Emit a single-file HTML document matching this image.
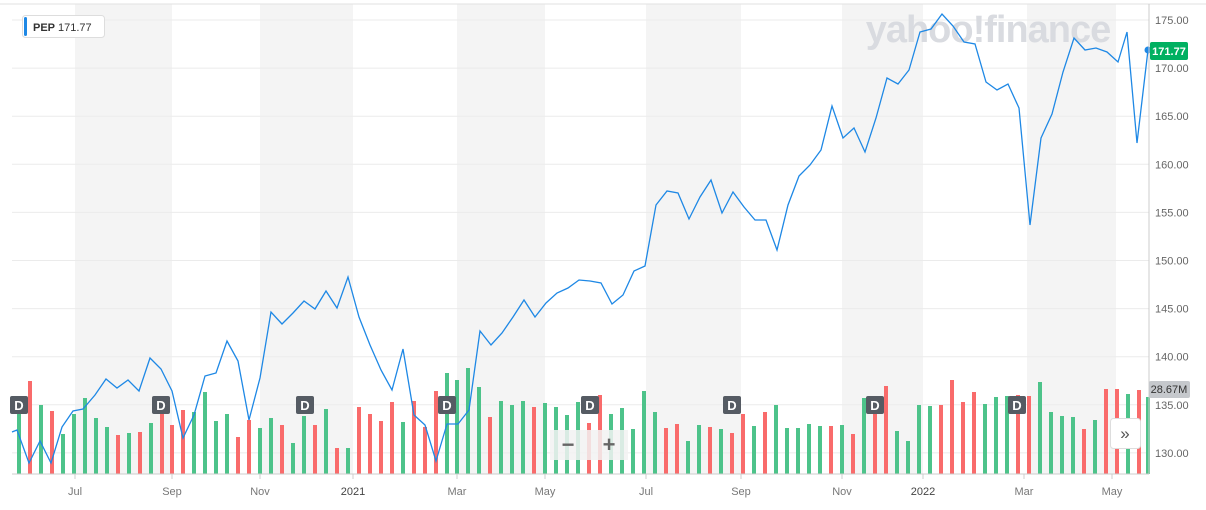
<!DOCTYPE html>
<html><head><meta charset="utf-8"><style>
body{margin:0;background:#fff;width:1206px;height:510px;overflow:hidden;font-family:"Liberation Sans",sans-serif}
svg{position:absolute;left:0;top:0}
</style></head><body>
<svg id="s" width="1206" height="510" xmlns="http://www.w3.org/2000/svg" font-family="Liberation Sans, sans-serif">
<rect x="0" y="0" width="1206" height="510" fill="#fff"/>
<g fill="#f4f4f4">
<rect x="75" y="4" width="97" height="470"/>
<rect x="260" y="4" width="93" height="470"/>
<rect x="457" y="4" width="88" height="470"/>
<rect x="646" y="4" width="95" height="470"/>
<rect x="842" y="4" width="81" height="470"/>
<rect x="1027" y="4" width="89" height="470"/>
</g>
<line x1="0" y1="4" x2="1206" y2="4" stroke="#e2e2e2"/>
<g id="grid" stroke="#ebebeb"></g>
<text x="988" y="42" font-size="38" font-weight="bold" fill="#d9dbe0" text-anchor="middle" letter-spacing="-1">yahoo!finance</text>
<g id="bars"></g>
<polyline fill="none" stroke="#1e88e5" stroke-width="1.3" points="12,432 17,430 29,463 40,441 51,463 62,427 73,411 83,409 95,395 106,379 117,388 128,380 139,391 150,358 161,369 172,391 183,438 194,415 205,376 216,373 227,341 238,361 249,420 260,378 271,312 282,324 293,313 304,301 315,309 326,291 337,308 348,277 359,317 370,345 381,370 392,390 403,349 414,415 425,425 436,461 447,424 458,424 469,410 480,331 491,345 502,333 513,317 524,300 535,317 546,303 557,293 568,288 579,280 590,281 601,283 612,304 623,295 634,271 645,266 656,205 667,191 678,193 689,219 700,197 711,180 722,213 733,192 744,207 755,220 766,220 777,250 788,205 799,176 810,165 821,150 832,106 843,138 854,128 865,152 876,118 887,78 898,84 909,70 920,32 931,29 942,14 953,26 964,42 975,44 986,82 997,90 1008,84 1019,108 1030,225 1041,138 1052,114 1063,72 1074,38 1085,50 1096,48 1107,52 1118,62 1127,32 1137,143 1148,50"/>
<circle cx="1148" cy="50" r="3.5" fill="#1e88e5"/>
<line x1="12" y1="474" x2="1149" y2="474" stroke="#ccc"/>
<line x1="1149" y1="4" x2="1149" y2="474" stroke="#ccc"/>
<g id="yl" font-size="11" fill="#666"></g>
<g font-size="11" fill="#777" text-anchor="middle">
<text x="75" y="495">Jul</text><text x="172" y="495">Sep</text><text x="260" y="495">Nov</text>
<text x="353" y="495" fill="#444">2021</text><text x="457" y="495">Mar</text><text x="545" y="495">May</text>
<text x="646" y="495">Jul</text><text x="741" y="495">Sep</text><text x="842" y="495">Nov</text>
<text x="923" y="495" fill="#444">2022</text><text x="1024" y="495">Mar</text><text x="1112" y="495">May</text>
</g>
<g stroke="#ccc"><line x1="75" y1="474" x2="75" y2="479"/><line x1="172" y1="474" x2="172" y2="479"/><line x1="260" y1="474" x2="260" y2="479"/><line x1="353" y1="474" x2="353" y2="479"/><line x1="457" y1="474" x2="457" y2="479"/><line x1="545" y1="474" x2="545" y2="479"/><line x1="646" y1="474" x2="646" y2="479"/><line x1="741" y1="474" x2="741" y2="479"/><line x1="842" y1="474" x2="842" y2="479"/><line x1="923" y1="474" x2="923" y2="479"/><line x1="1024" y1="474" x2="1024" y2="479"/><line x1="1112" y1="474" x2="1112" y2="479"/></g>
<g id="dm"></g>
<rect x="550" y="430" width="78" height="30" fill="#f2f2f2" opacity="0.85"/>
<text x="568" y="452" font-size="22" font-weight="bold" fill="#666" text-anchor="middle">−</text>
<text x="609" y="452" font-size="22" font-weight="bold" fill="#666" text-anchor="middle">+</text>
<rect x="1110.5" y="418.5" width="30" height="30" rx="3" fill="#fff" stroke="#ddd"/>
<text x="1125" y="439" font-size="17" fill="#555" text-anchor="middle">»</text>
<rect x="22.5" y="15.5" width="82" height="22" rx="3" fill="#fff" stroke="#ddd"/>
<rect x="24" y="17" width="3" height="19" rx="1.5" fill="#1e88e5"/>
<text x="33" y="31" font-size="11" fill="#333" font-weight="bold">PEP</text>
<text x="58" y="31" font-size="11" fill="#333">171.77</text>
<rect x="1150" y="42" width="38" height="18" rx="2" fill="#00b061"/>
<text x="1169" y="55" font-size="11" font-weight="bold" fill="#fff" text-anchor="middle">171.77</text>
<rect x="1149" y="381" width="41" height="17" rx="2" fill="#c5c8cc"/>
<text x="1169" y="393" font-size="11" fill="#333" text-anchor="middle">28.67M</text>
</svg>
<script>
var ns="http://www.w3.org/2000/svg";
function el(p,t,a,txt){var e=document.createElementNS(ns,t);for(var k in a)e.setAttribute(k,a[k]);if(txt)e.textContent=txt;document.getElementById(p).appendChild(e);}
for(var v=130;v<=175;v+=5){var y=20+(175-v)*9.62;el("grid","line",{x1:12,x2:1149,y1:y,y2:y});el("yl","text",{x:1155,y:y+4},v.toFixed(2));}
var b="19 403 g,30 381 r,41 405 g,52 411 r,63 434 g,74 414 g,85 398 g,96 418 g,107 427 g,118 435 r,129 433 g,140 432 r,151 423 g,162 412 r,172 425 r,183 410 r,194 412 g,205 392 g,216 421 g,227 414 g,238 437 r,249 420 r,260 428 g,271 418 g,282 425 r,293 443 g,304 416 g,315 425 r,326 409 g,337 448 r,348 448 g,359 407 r,370 414 r,381 421 r,392 402 r,403 422 g,414 401 r,425 427 r,436 391 r,447 373 g,457 380 g,468 368 g,479 387 g,490 417 r,501 401 g,512 405 g,523 401 g,534 407 r,545 403 g,556 407 g,567 415 g,578 402 g,589 423 r,600 395 r,611 414 g,622 408 g,633 429 g,644 391 g,655 412 g,666 428 r,677 424 r,688 441 g,699 425 g,710 427 r,721 429 g,732 433 r,743 414 r,754 426 g,765 412 r,776 405 g,787 428 g,798 428 g,809 424 g,820 426 g,831 426 r,842 425 g,853 434 r,864 398 g,875 397 r,886 386 r,897 431 g,908 441 g,919 405 g,930 406 g,941 405 r,952 380 r,963 402 r,974 392 r,985 404 g,996 397 g,1007 396 g,1018 395 r,1029 396 r,1040 382 g,1051 412 g,1062 416 g,1073 417 g,1084 429 r,1095 420 g,1106 389 r,1117 389 r,1128 394 g,1139 390 r,1148 397 g".split(",");
b.forEach(function(s){var p=s.split(" ");var x=+p[0],t=+p[1];el("bars","rect",{x:x-2,y:t,width:4,height:474-t,fill:p[2]=="g"?"#4dc38a":"#f96b6b"});});
[19,161,305,447,590,732,875,1017].forEach(function(x){el("dm","rect",{x:x-9,y:396,width:18,height:18,rx:2,fill:"#555b63"});el("dm","text",{x:x,y:410,"font-size":13,"font-weight":"bold",fill:"#fff","text-anchor":"middle"},"D");});
</script>
</body></html>
